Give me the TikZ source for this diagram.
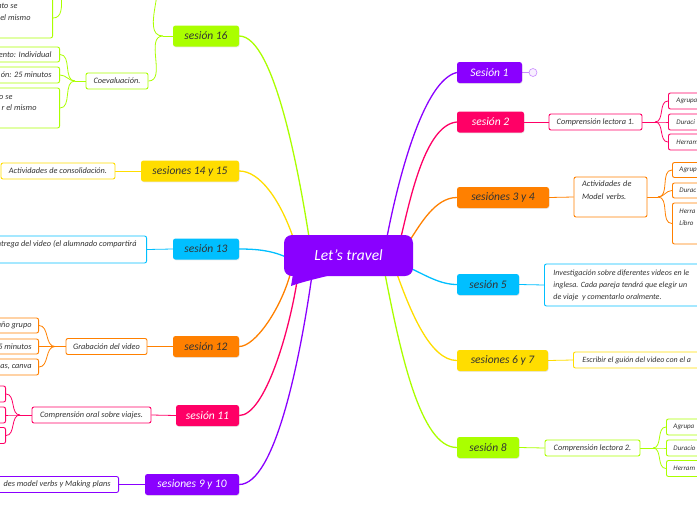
\documentclass[tikz,border=0pt]{standalone}
\usepackage{fontspec}
\setmainfont{Carlito}
\usetikzlibrary{shadows}
\definecolor{cpur}{RGB}{138,0,255}
\definecolor{cpink}{RGB}{255,0,102}
\definecolor{corange}{RGB}{255,128,0}
\definecolor{ccyan}{RGB}{0,191,255}
\definecolor{cyel}{RGB}{255,221,0}
\definecolor{clime}{RGB}{170,255,0}
\definecolor{ctext}{RGB}{51,51,51}
\pgfdeclarelayer{background}
\pgfsetlayers{background,main}
\begin{document}
\begin{tikzpicture}[x=1pt,y=-1pt,
  mainbox/.style={rounded corners=2.5pt, minimum height=21pt, inner sep=0pt,
    font=\fontsize{11.5}{13}\selectfont\itshape,
    drop shadow={shadow xshift=0.5pt,shadow yshift=-0.8pt,opacity=0.18}},
  light/.style={text=white},
  dark/.style={text=ctext},
  kid/.style={draw=#1, fill=white, line width=0.9pt, rounded corners=2pt,
    minimum height=16pt, inner sep=0pt, text=ctext,
    font=\fontsize{8.3}{12}\selectfont\itshape},
  edgekid/.style={kid=#1, anchor=west, font=\fontsize{7}{12}\selectfont\itshape},
  trunk/.style={draw=#1, line width=1.3pt},
  twig/.style={draw=#1, line width=0.8pt},
]
\useasboundingbox (0,0) rectangle (697,520);

% ---------- centre ----------
\fill[cpur] (293,274) -- (291,286) .. controls (305,281) and (320,278) .. (335,274) -- cycle;
\node[rounded corners=8pt, fill=cpur, minimum width=129pt, minimum height=41pt, inner sep=0pt,
  text=white, font=\fontsize{15.5}{17}\selectfont\itshape] (ctr) at (348.5,255.5) {Let's travel};

% ---------- main nodes, right ----------
\node[mainbox, fill=cpur, light, minimum width=65pt] (s1) at (489.5,72.5) {Sesión 1};
\node[mainbox, fill=cpink, light, minimum width=67pt] (s2) at (490.5,122) {sesión 2};
\node[mainbox, fill=corange, dark, minimum width=92pt] (s34) at (503,197.5) {sesiónes 3 y 4};
\node[mainbox, fill=ccyan, dark, minimum width=62pt] (s5) at (488,284.5) {sesión 5};
\node[mainbox, fill=cyel, dark, minimum width=91pt] (s67) at (502.5,360.5) {sesiones 6 y 7};
\node[mainbox, fill=clime, dark, minimum width=62pt] (s8) at (488,447.5) {sesión 8};
% ---------- main nodes, left ----------
\node[mainbox, fill=clime, dark, minimum width=66pt] (s16) at (206,36) {sesión 16};
\node[mainbox, fill=cyel, dark, minimum width=98pt] (s1415) at (190,171) {sesiones 14 y 15};
\node[mainbox, fill=ccyan, dark, minimum width=66pt] (s13) at (206,249) {sesión 13};
\node[mainbox, fill=corange, dark, minimum width=66pt] (s12) at (206,346.5) {sesión 12};
\node[mainbox, fill=cpink, light, minimum width=63pt] (s11) at (207.5,415.5) {sesión 11};
\node[mainbox, fill=cpur, light, minimum width=94pt] (s910) at (192,484.5) {sesiones 9 y 10};

\node[circle, draw=cpur!45, fill=cpur!6, line width=0.6pt, minimum size=8pt, inner sep=0pt] (s1c) at (533,72.5) {};

% ---------- children, right ----------
\node[kid=cpink, minimum width=93pt] (c2) at (595.5,122) {Comprensión lectora 1.};
\node[kid=corange, minimum width=73pt, minimum height=40pt, text width=57pt, align=left,
  font=\fontsize{8.3}{13}\selectfont\itshape] (c34) at (610.5,197) {Actividades de\\Model verbs.\\\mbox{}};
\node[kid=ccyan, anchor=west, minimum height=42pt, inner xsep=9pt, align=left,
  font=\fontsize{8}{12}\selectfont\itshape] (c5) at (544,285)
  {\makebox[290pt][l]{Investigación sobre diferentes videos en le}\\\makebox[290pt][l]{inglesa. Cada pareja tendrá que elegir un}\\\makebox[290pt][l]{de viaje\ \ y comentarlo oralmente.}};
\node[kid=cyel, anchor=west, inner xsep=9pt, font=\fontsize{8}{12}\selectfont\itshape] (c67) at (573,360) {\makebox[200pt][l]{Escribir el guión del video con el a}};
\node[kid=clime, minimum width=95pt] (c8) at (592.5,448) {Comprensión lectora 2.};

% grandchildren right
\node[edgekid=cpink, inner xsep=8pt] (g2a) at (668,101) {\makebox[90pt][l]{Agrupa}};
\node[edgekid=cpink, inner xsep=8pt] (g2b) at (668,122) {\makebox[90pt][l]{Duraci}};
\node[edgekid=cpink, inner xsep=8pt] (g2c) at (668,142) {\makebox[90pt][l]{Herram}};
\node[edgekid=corange, inner xsep=7pt, minimum height=15pt] (g34a) at (672,170) {\makebox[90pt][l]{Agrup}};
\node[edgekid=corange, inner xsep=7pt, minimum height=15pt] (g34b) at (672,190.5) {\makebox[90pt][l]{Durac}};
\node[edgekid=corange, inner xsep=7pt, minimum height=41pt, align=left] (g34c) at (672,223.5)
  {\makebox[90pt][l]{Herra}\\Libro\\\mbox{}};
\node[edgekid=clime, inner xsep=7pt] (g8a) at (666,427) {\makebox[90pt][l]{Agrupa}};
\node[edgekid=clime, inner xsep=7pt] (g8b) at (666,448) {\makebox[90pt][l]{Duracio}};
\node[edgekid=clime, inner xsep=7pt] (g8c) at (666,468.5) {\makebox[90pt][l]{Herram}};

% ---------- children, left ----------
\node[kid=clime, minimum width=62pt] (c16) at (117,81) {Coevaluación.};
\node[kid=cyel, minimum width=114pt] (c1415) at (58,171) {Actividades de consolidación.};
\node[kid=ccyan, anchor=east, inner xsep=10pt, inner ysep=4.5pt, text height=6pt, text depth=12pt] (c13) at (147,249.5)
  {\makebox[220pt][r]{ntrega del video (el alumnado compartirá}};
\node[kid=corange, minimum width=81pt] (c12) at (106.5,346.5) {Grabación del video};
\node[kid=cpink, minimum width=119pt] (c11) at (91.5,415) {Comprensión oral sobre viajes.};
\node[kid=cpur, anchor=east, inner xsep=8pt] (c910) at (119,484.5) {\makebox[200pt][r]{des model verbs y Making plans}};

% grandchildren left
\node[kid=clime, anchor=east, inner xsep=22pt, minimum height=40pt, align=left] (tb) at (53,18)
  {\makebox[100pt][r]{nto se\hspace{13pt}}\\\makebox[100pt][r]{el mismo}\\\mbox{}};
\node[kid=clime, anchor=east, inner xsep=8pt, minimum height=15pt] (g16a) at (60,54.5) {\makebox[90pt][r]{ento: Individual}};
\node[kid=clime, anchor=east, inner xsep=8pt] (g16b) at (60,75) {\makebox[90pt][r]{ón: 25 minutos}};
\node[kid=clime, anchor=east, inner xsep=23pt, minimum height=40pt, align=left,
  font=\fontsize{8.3}{11}\selectfont\itshape] (g16c) at (60,108)
  {\makebox[100pt][r]{o se\hspace{24pt}}\\\makebox[100pt][r]{r el mismo}\\\mbox{}};
\node[kid=corange, anchor=east, inner xsep=7pt, minimum height=15pt] (g12a) at (39,325.5) {\makebox[80pt][r]{año grupo}};
\node[kid=corange, anchor=east, inner xsep=7pt, minimum height=15pt] (g12b) at (39,346.5) {\makebox[80pt][r]{5 minutos}};
\node[kid=corange, anchor=east, inner xsep=7pt] (g12c) at (39,367) {\makebox[80pt][r]{as, canva}};
\node[kid=cpink, anchor=east, minimum width=60pt] (g11a) at (6,394) {};
\node[kid=cpink, anchor=east, minimum width=60pt] (g11b) at (6,415) {};
\node[kid=cpink, anchor=east, minimum width=60pt] (g11c) at (6,435.5) {};

% junction points
\coordinate (j2) at (655,122);
\coordinate (j34) at (658,197);
\coordinate (j8) at (653,448);
\coordinate (js16) at (163,36);
\coordinate (c16up) at (148,-28);
\coordinate (jtb) at (70,-25);
\coordinate (j16) at (75,81);
\coordinate (j12) at (55,346.5);
\coordinate (j11) at (20,415);

\begin{pgfonlayer}{background}
% trunks right
\draw[trunk=cpur] (387,237) .. controls (400,170) and (425,80) .. (s1.west);
\draw[trunk=cpink] (401,237) .. controls (410,200) and (425,125) .. (s2.west);
\draw[trunk=corange] (410,240) .. controls (420,225) and (435,197.5) .. (s34.west);
\draw[trunk=ccyan] (410,268) .. controls (425,275) and (440,284.5) .. (s5.west);
\draw[trunk=cyel] (397,274) .. controls (410,310) and (430,360.5) .. (s67.west);
\draw[trunk=clime] (385,274) .. controls (400,350) and (420,447.5) .. (s8.west);
% trunks left
\draw[trunk=clime] (309,237) .. controls (300,180) and (275,36) .. (s16.east);
\draw[trunk=cyel] (293,237) .. controls (280,200) and (260,171) .. (s1415.east);
\draw[trunk=ccyan] (286,257) .. controls (270,250) and (255,249) .. (s13.east);
\draw[trunk=corange] (290,275) .. controls (280,310) and (255,346.5) .. (s12.east);
\draw[trunk=cpink] (298,275) .. controls (290,330) and (265,415.5) .. (s11.east);
\draw[trunk=cpur] (312,275) .. controls (300,360) and (275,484.5) .. (s910.east);

\draw[cpur!45, line width=0.6pt] (s1.east) -- (s1c.west);
% main -> child
\draw[twig=cpink] (s2.east) -- (c2.west);
\draw[twig=corange] (s34.east) -- (c34.west);
\draw[twig=ccyan] (s5.east) -- (c5.west);
\draw[twig=cyel] (s67.east) -- (c67.west);
\draw[twig=clime] (s8.east) -- (c8.west);
\draw[twig=clime] (s16.west) -- (js16);
\draw[twig=cyel] (s1415.west) -- (c1415.east);
\draw[twig=ccyan] (s13.west) -- (c13.east);
\draw[twig=corange] (s12.west) -- (c12.east);
\draw[twig=cpink] (s11.west) -- (c11.east);
\draw[twig=cpur] (s910.west) -- (c910.east);
% fans
\draw[twig=clime] (js16) to[out=180,in=0] (c16up);
\draw[twig=clime] (js16) to[out=180,in=0] (c16.east);
\draw[twig=clime] (jtb) to[out=180,in=0] (tb.east);
\draw[twig=clime] (c16.west) -- (j16);
\foreach \g in {g16a,g16b,g16c} \draw[twig=clime] (j16) to[out=180,in=0] (\g.east);
\draw[twig=corange] (c12.west) -- (j12);
\foreach \g in {g12a,g12b,g12c} \draw[twig=corange] (j12) to[out=180,in=0] (\g.east);
\draw[twig=cpink] (c11.west) -- (j11);
\foreach \g in {g11a,g11b,g11c} \draw[twig=cpink] (j11) to[out=180,in=0] (\g.east);
\draw[twig=cpink] (c2.east) -- (j2);
\foreach \g in {g2a,g2b,g2c} \draw[twig=cpink] (j2) to[out=0,in=180] (\g.west);
\draw[twig=corange] (c34.east) -- (j34);
\foreach \g in {g34a,g34b,g34c} \draw[twig=corange] (j34) to[out=0,in=180] (\g.west);
\draw[twig=clime] (c8.east) -- (j8);
\foreach \g in {g8a,g8b,g8c} \draw[twig=clime] (j8) to[out=0,in=180] (\g.west);
\end{pgfonlayer}
\end{tikzpicture}
\end{document}
